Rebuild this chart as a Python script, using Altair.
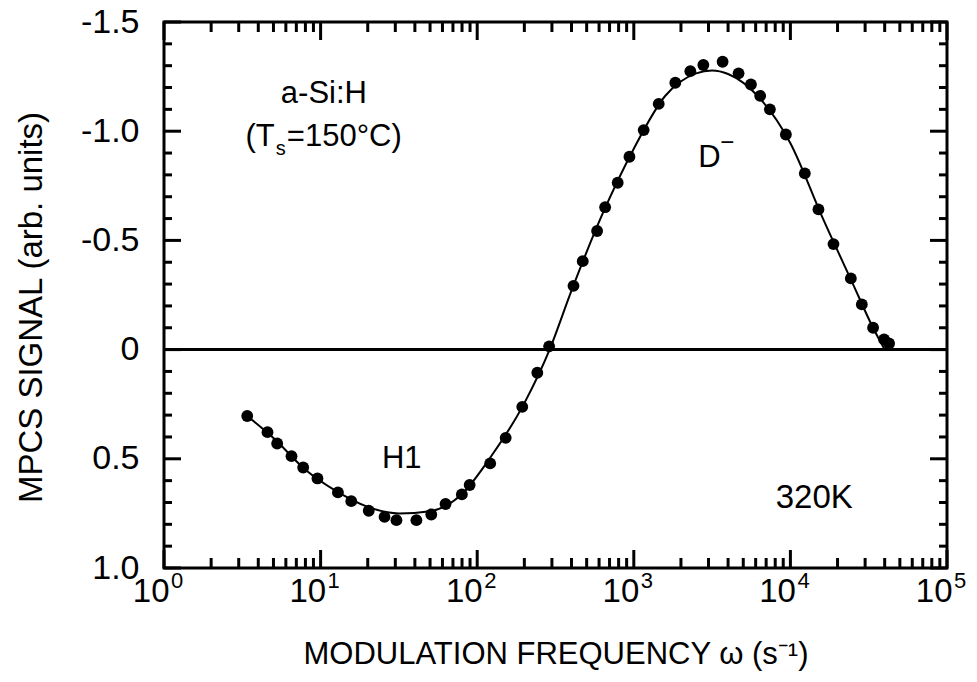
import altair as alt
import pandas as pd

# ---- measured data points (modulation frequency in s^-1, MPCS signal) ----
freq = [3.40, 4.58, 5.28, 6.52, 7.74, 9.55, 12.9, 15.7, 20.3, 25.6,
        30.5, 40.9, 50.9, 62.8, 79.8, 89.5, 121, 152, 194, 242,
        288, 412, 472, 583, 656, 789, 938, 1156, 1442, 1841,
        2296, 2780, 3690, 4667, 5598, 6412, 7396, 9354, 12360, 15100,
        18840, 24320, 28580, 33730, 39630, 42660]
signal = [0.304, 0.378, 0.430, 0.488, 0.540, 0.590, 0.654, 0.694, 0.738, 0.766,
          0.781, 0.781, 0.755, 0.707, 0.663, 0.620, 0.521, 0.404, 0.262, 0.106,
          -0.015, -0.292, -0.405, -0.543, -0.652, -0.764, -0.883, -1.005, -1.125, -1.222,
          -1.275, -1.303, -1.318, -1.265, -1.214, -1.162, -1.100, -0.985, -0.807, -0.642,
          -0.483, -0.326, -0.207, -0.100, -0.047, -0.028]

# ---- fitted curve ----
fit_freq = [3.4, 5, 8, 12.6, 20, 31.6, 50, 79, 121, 200, 290, 400, 630, 1000,
            1580, 2500, 3160, 4000, 6300, 10000, 15800, 25100, 33700, 40000]
fit_signal = [0.304, 0.405, 0.550, 0.648, 0.720, 0.750, 0.740, 0.665, 0.495, 0.245,
              0.0, -0.27, -0.62, -0.92, -1.16, -1.265, -1.278, -1.262, -1.155, -0.945,
              -0.615, -0.30, -0.10, 0.0]

# ---- axis ticks ----
y_major = [-1.5, -1.0, -0.5, 0.0, 0.5, 1.0]
y_minor = [-1.4, -1.3, -1.2, -1.1, -0.9, -0.8, -0.7, -0.6, -0.4, -0.3, -0.2, -0.1,
           0.1, 0.2, 0.3, 0.4, 0.6, 0.7, 0.8, 0.9]
x_major = [1, 10, 100, 1000, 10000, 100000]
x_exp = ["0", "1", "2", "3", "4", "5"]
x_minor = [m * 10 ** k for k in range(5) for m in range(2, 10)]

W, H = 783, 546
FONT = "Liberation Sans"

xs = alt.Scale(type="log", domain=[1, 100000], nice=False)
ys = alt.Scale(domain=[-1.5, 1.0], reverse=True, nice=False, zero=False)

pts = pd.DataFrame({"freq": freq, "signal": signal})
fit = pd.DataFrame({"freq": fit_freq, "signal": fit_signal})
dymaj = pd.DataFrame({"freq": [1] * len(y_major), "signal": y_major})
dymin = pd.DataFrame({"freq": [1] * len(y_minor), "signal": y_minor})
dxmaj = pd.DataFrame({"freq": x_major, "signal": [0] * len(x_major), "e": x_exp})
dxmin = pd.DataFrame({"freq": x_minor, "signal": [0] * len(x_minor)})

ylab = ("datum.value == 0 ? '0' : (datum.value < 0 ? '-' : '') + "
        "format(abs(datum.value), '.1f')")

X_AXIS = alt.Axis(
    values=x_major, labelExpr="'10'", labelAlign="right", labelOffset=5,
    labelFlush=False, labelOverlap=False, labelFontSize=33, labelPadding=7,
    labelColor="black", ticks=False, tickSize=0, domain=False, grid=False,
    title="MODULATION FREQUENCY ω (s⁻¹)", titleFontSize=31,
    titleFontWeight="normal", titleColor="black", titlePadding=31)
Y_AXIS = alt.Axis(
    values=y_major, labelExpr=ylab, labelFontSize=34, labelPadding=25,
    labelColor="black", ticks=False, tickSize=0, domain=False, grid=False,
    title="MPCS SIGNAL (arb. units)", titleFontSize=33, titleY=285,
    titleFontWeight="normal", titleColor="black", titlePadding=32)

XQ = alt.X("freq:Q", scale=xs, axis=X_AXIS)
YQ = alt.Y("signal:Q", scale=ys, axis=Y_AXIS)

points = alt.Chart(pts).mark_circle(size=140, color="black", opacity=1).encode(x=XQ, y=YQ)

curve = alt.Chart(fit).mark_line(color="black", strokeWidth=2, interpolate="monotone").encode(
    x=XQ, y=YQ)

zero = alt.Chart(pd.DataFrame({"signal": [0.0]})).mark_rule(color="black", strokeWidth=3).encode(
    y=YQ)


def yticks(df, x1, x2):
    return alt.Chart(df).mark_rule(color="black", strokeWidth=3).encode(
        y=YQ, x=alt.value(x1), x2=alt.value(x2))


def xticks(df, y1, y2):
    return alt.Chart(df).mark_rule(color="black", strokeWidth=3).encode(
        x=XQ, y=alt.value(y1), y2=alt.value(y2))


ticks = [
    yticks(dymaj, 0, 17), yticks(dymin, 0, 8),
    yticks(dymaj, W - 17, W), yticks(dymin, W - 8, W),
    xticks(dxmaj, H - 18, H), xticks(dxmin, H - 10, H),
    xticks(dxmaj, 0, 18), xticks(dxmin, 0, 10),
]

exps = alt.Chart(dxmaj).mark_text(align="left", baseline="alphabetic", dx=7,
                                  fontSize=22, color="black").encode(
    x=XQ, y=alt.value(H + 20), text="e:N")


def label(txt, fx, sy, size=31, align="center", dx=0, dy=0):
    return alt.Chart(pd.DataFrame({"freq": [fx], "signal": [sy], "t": [txt]})).mark_text(
        align=align, baseline="alphabetic", fontSize=size, color="black", dx=dx, dy=dy
    ).encode(x=XQ, y=YQ, text="t:N")


texts = [
    label("a-Si:H", 10.5, -1.129),
    label("(T", 5.1, -0.932, align="right"),
    label("s", 5.1, -0.932, size=20, align="left", dx=1, dy=9),
    label("=150°C)", 5.1, -0.932, align="left", dx=12),
    label("D", 2582, -0.836, align="left"),
    label("−", 2582, -0.836, size=24, align="left", dx=22, dy=-17),
    label("H1", 33.0, 0.543),
    label("320K", 14190, 0.726, size=33),
]

chart = alt.layer(points, *ticks, zero, curve, exps, *texts).properties(
    width=W, height=H,
    autosize=alt.AutoSizeParams(type="none"),
    padding={"left": 164, "top": 22, "right": 30, "bottom": 114},
).configure(font=FONT).configure_view(stroke="black", strokeWidth=3)

chart.save("out.html", embed_options={"renderer": "svg", "actions": False})
